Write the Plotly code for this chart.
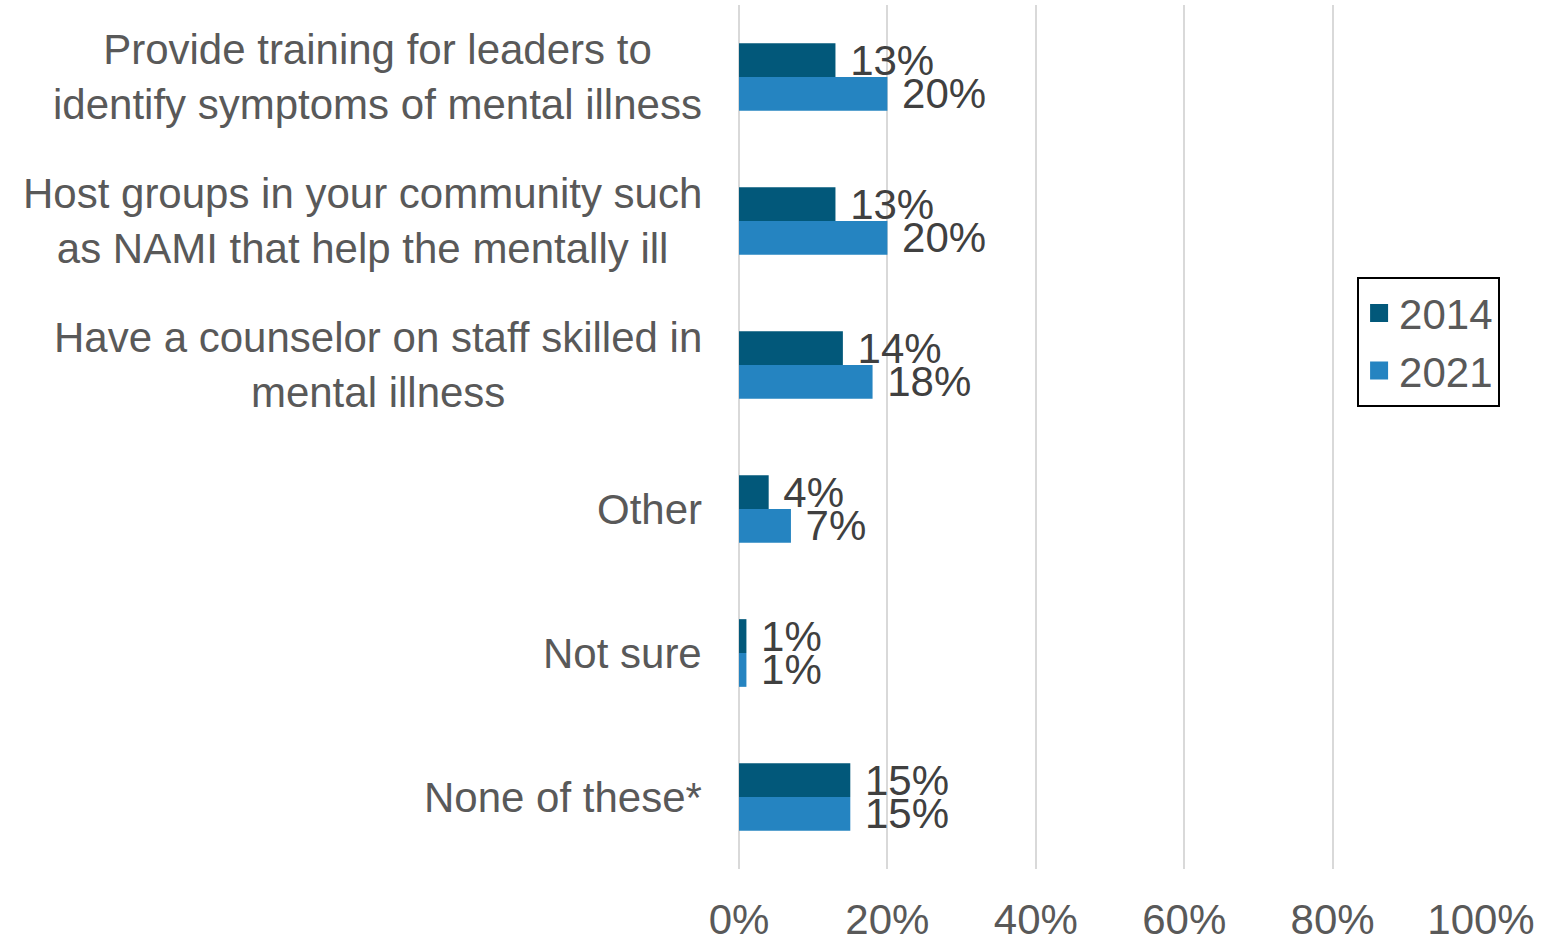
import plotly.graph_objects as go

categories = [
    "Provide training for leaders to<br>identify symptoms of mental illness",
    "Host groups in your community such<br>as NAMI that help the mentally ill",
    "Have a counselor on staff skilled in<br>mental illness",
    "Other",
    "Not sure",
    "None of these*",
]
values_2014 = [13, 13, 14, 4, 1, 15]
values_2021 = [20, 20, 18, 7, 1, 15]
x_ticks = [0, 20, 40, 60, 80, 100]

FONT = "Liberation Sans, Arial, sans-serif"
LABEL_COLOR = "#404040"
series = [("2014", values_2014, "#02587A"), ("2021", values_2021, "#2584C1")]

fig = go.Figure()
for name, vals, color in series:
    fig.add_trace(go.Bar(
        name=name,
        y=categories,
        x=vals,
        orientation="h",
        marker=dict(color=color, line=dict(width=0)),
        text=[f" {v}%" for v in vals],
        textposition="outside",
        constraintext="none",
        cliponaxis=False,
        textfont=dict(family=FONT, size=42, color=LABEL_COLOR),
        showlegend=False,
    ))

# Legend entries with larger square swatches
for name, vals, color in series:
    fig.add_trace(go.Scatter(
        name=name, x=[None], y=[None], mode="markers",
        marker=dict(symbol="square", size=16, color=color, line=dict(width=2, color=color)),
        legendgroup=name, showlegend=True,
    ))

# Category labels: right-aligned block, lines centered within it
for cat in categories:
    fig.add_annotation(
        x=0, xref="paper", y=cat, yref="y",
        text=cat, showarrow=False,
        xanchor="right", xshift=-35, align="center",
        font=dict(family=FONT, size=42, color="#595959"),
    )

fig.update_layout(
    width=1545, height=938,
    margin=dict(l=739, r=64, t=5, b=69),
    paper_bgcolor="white", plot_bgcolor="white",
    barmode="group", bargap=0.53, bargroupgap=0,
    font=dict(family=FONT, color="#595959"),
    legend=dict(
        x=0.833, y=0.685, xanchor="left", yanchor="top",
        bordercolor="black", borderwidth=2,
        font=dict(family=FONT, size=42, color="#595959"),
        traceorder="normal", tracegroupgap=8, itemsizing="trace",
    ),
    showlegend=True,
)
fig.update_xaxes(
    range=[0, 100], tickvals=x_ticks, ticktext=[f"{t}%" for t in x_ticks],
    showgrid=True, gridcolor="#D9D9D9", gridwidth=2,
    zeroline=True, zerolinecolor="#D9D9D9", zerolinewidth=2,
    showline=False, ticks="", ticklabelstandoff=22, automargin=False,
    tickfont=dict(family=FONT, size=42, color="#595959"),
)
fig.update_yaxes(
    categoryorder="array", categoryarray=categories, autorange="reversed",
    showticklabels=False, showgrid=False, zeroline=False, showline=False, ticks="",
    automargin=False,
)

fig.write_html("out.html")
